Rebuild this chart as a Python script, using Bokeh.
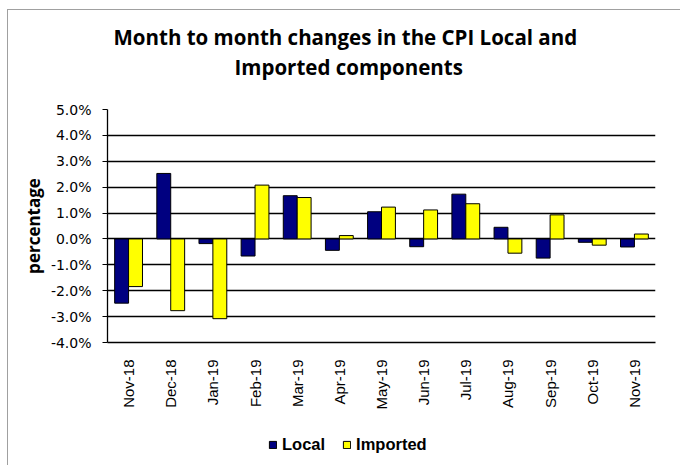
import math
from bokeh.plotting import figure
from bokeh.layouts import column
from bokeh.models import (ColumnDataSource, FactorRange, Range1d, FixedTicker,
                          Title, Legend, LegendItem)
from bokeh.transform import dodge
from bokeh.embed import file_html
from bokeh.resources import INLINE

# ---- data ----
months = ["Nov-18", "Dec-18", "Jan-19", "Feb-19", "Mar-19", "Apr-19", "May-19",
          "Jun-19", "Jul-19", "Aug-19", "Sep-19", "Oct-19", "Nov-19"]
local = [-2.48, 2.53, -0.18, -0.66, 1.67, -0.44, 1.05, -0.30, 1.73, 0.45, -0.74, -0.13, -0.31]
imported = [-1.84, -2.77, -3.08, 2.08, 1.60, 0.13, 1.23, 1.12, 1.36, -0.55, 0.93, -0.24, 0.19]
y_ticks = [-4, -3, -2, -1, 0, 1, 2, 3, 4, 5]
y_tick_labels = ["-4.0%", "-3.0%", "-2.0%", "-1.0%", "0.0%", "1.0%", "2.0%", "3.0%", "4.0%", "5.0%"]
title_lines = ["Month to month changes in the CPI Local and", "Imported components"]
y_title = "percentage"
series_names = ["Local", "Imported"]
series_colors = ["#000080", "#FFFF00"]

source = ColumnDataSource(dict(month=months, local=local, imported=imported))

# ---------------- main chart ----------------
p = figure(width=672, height=410, x_range=FactorRange(*months),
           y_range=Range1d(-4, 5), output_backend="svg", toolbar_location=None,
           min_border_left=99, min_border_right=25, min_border_top=99,
           min_border_bottom=78)

p.vbar(x=dodge("month", -0.165, range=p.x_range), top="local", bottom=0,
       width=0.33, source=source, fill_color=series_colors[0], line_color="black",
       line_width=1)
p.vbar(x=dodge("month", 0.165, range=p.x_range), top="imported", bottom=0,
       width=0.33, source=source, fill_color=series_colors[1], line_color="black",
       line_width=1)

p.outline_line_color = None
p.background_fill_color = "white"
p.border_fill_color = "white"

# grid
p.xgrid.grid_line_color = None
p.ygrid.ticker = FixedTicker(ticks=y_ticks)
p.ygrid.grid_line_color = "black"
p.ygrid.grid_line_width = 1.3

# y axis
p.yaxis.ticker = FixedTicker(ticks=y_ticks)
p.yaxis.major_label_overrides = {t: l for t, l in zip(y_ticks, y_tick_labels)}
p.yaxis.major_label_text_font = "DejaVu Sans"
p.yaxis.major_label_text_font_size = "14px"
p.yaxis.major_label_text_color = "black"
p.yaxis.major_tick_out = 5
p.yaxis.major_tick_in = 0
p.yaxis.minor_tick_line_color = None
p.yaxis.major_label_standoff = 11
p.yaxis.axis_line_color = "black"
p.yaxis.axis_line_width = 1.3
p.yaxis.major_tick_line_color = "black"
p.yaxis.axis_label = y_title
p.yaxis.axis_label_text_font = "Open Sans"
p.yaxis.axis_label_text_font_style = "bold"
p.yaxis.axis_label_text_font_size = "17px"
p.yaxis.axis_label_text_color = "black"
p.yaxis.axis_label_standoff = 3

# x axis
p.xaxis.major_label_orientation = math.pi / 2
p.xaxis.major_label_text_font = "Liberation Sans"
p.xaxis.major_label_text_font_size = "15px"
p.xaxis.major_label_text_color = "black"
p.xaxis.major_tick_line_color = None
p.xaxis.minor_tick_line_color = None
p.xaxis.major_label_standoff = 11
p.xaxis.axis_line_color = "black"
p.xaxis.axis_line_width = 1.3

# titles (stacked above the frame; first added is nearest the frame)
spacer = Title(text=" ", text_font_size="24px", standoff=0)
t2 = Title(text=title_lines[1], align="left", offset=127, text_font="Open Sans",
           text_font_style="bold", text_font_size="20.5px", standoff=0,
           text_color="black")
t1 = Title(text=title_lines[0], align="left", offset=6, text_font="Open Sans",
           text_font_style="bold", text_font_size="20.5px", standoff=0,
           text_color="black")
p.add_layout(spacer, "above")
p.add_layout(t2, "above")
p.add_layout(t1, "above")

# ---------------- legend strip ----------------
q = figure(width=672, height=45, x_range=Range1d(0, 1), y_range=Range1d(0, 1),
           output_backend="svg", toolbar_location=None, x_axis_type=None,
           y_axis_type=None, min_border=0)
q.outline_line_color = None
q.background_fill_color = "white"
q.border_fill_color = "white"

# legend-only renderers (NaN heights, so nothing is drawn in the strip itself)
nan = float("nan")
lr1 = q.vbar(x=[0.5], top=[nan], bottom=[nan], width=0.1,
             fill_color=series_colors[0], line_color="black")
lr2 = q.vbar(x=[0.5], top=[nan], bottom=[nan], width=0.1,
             fill_color=series_colors[1], line_color="black")

legend = Legend(items=[LegendItem(label=series_names[0], renderers=[lr1]),
                       LegendItem(label=series_names[1], renderers=[lr2])],
                orientation="horizontal", location=(161, 11))
legend.padding = 0
legend.margin = 0
legend.spacing = 17
legend.glyph_width = 9
legend.glyph_height = 9
legend.label_height = 9
legend.label_standoff = 5
legend.label_text_font = "Liberation Sans"
legend.label_text_font_style = "bold"
legend.label_text_font_size = "16.5px"
legend.label_text_color = "black"
legend.border_line_color = None
legend.background_fill_alpha = 0
q.add_layout(legend)

layout = column(p, q, spacing=0)
layout.styles = {"margin-left": "7px", "margin-top": "9px",
                 "border-left": "1px solid #a0a0a0", "border-top": "1px solid #a0a0a0"}

open("out.html", "w").write(file_html(layout, INLINE))
